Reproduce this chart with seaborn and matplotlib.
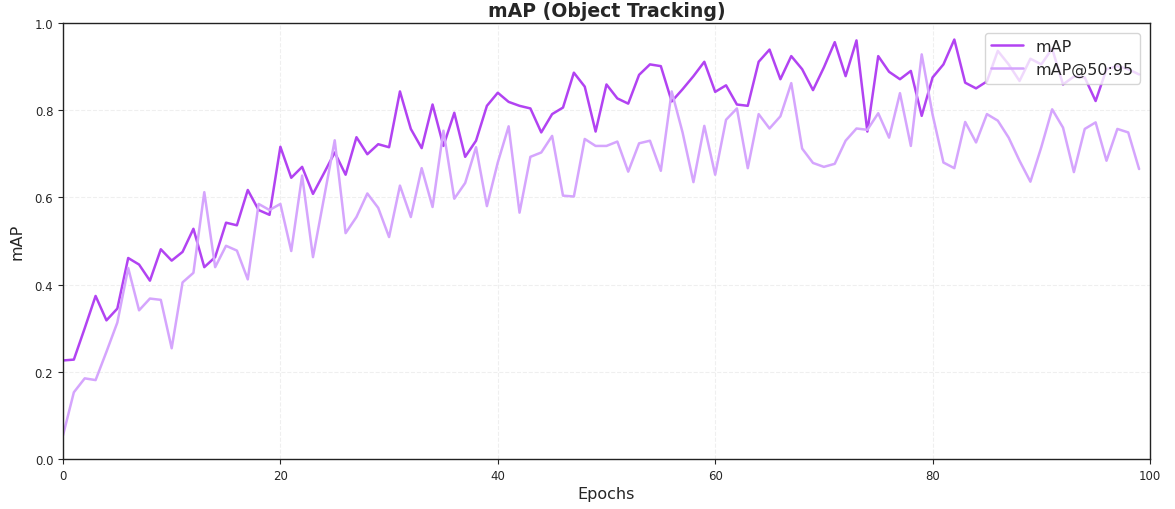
import numpy as np
import pandas as pd
import matplotlib
matplotlib.use("Agg")
import matplotlib.pyplot as plt
import seaborn as sns

# Per-epoch validation scores
epochs = list(range(100))

map_values = [
    0.226, 0.228, 0.300, 0.374, 0.318, 0.345, 0.461, 0.446, 0.409, 0.481,
    0.455, 0.475, 0.528, 0.440, 0.463, 0.542, 0.536, 0.617, 0.571, 0.560,
    0.716, 0.645, 0.670, 0.608, 0.655, 0.703, 0.652, 0.738, 0.699, 0.722,
    0.715, 0.843, 0.757, 0.713, 0.813, 0.718, 0.794, 0.693, 0.730, 0.810,
    0.840, 0.819, 0.810, 0.804, 0.749, 0.791, 0.806, 0.886, 0.854, 0.751,
    0.859, 0.827, 0.815, 0.881, 0.905, 0.901, 0.820, 0.848, 0.878, 0.911,
    0.842, 0.857, 0.813, 0.810, 0.911, 0.939, 0.871, 0.924, 0.894, 0.846,
    0.898, 0.956, 0.878, 0.960, 0.751, 0.924, 0.888, 0.871, 0.890, 0.787,
    0.875, 0.905, 0.962, 0.863, 0.850, 0.866, 0.936, 0.905, 0.867, 0.918,
    0.905, 0.941, 0.859, 0.877, 0.875, 0.821, 0.894, 0.901, 0.894, 0.882,
]

map_50_95_values = [
    0.054, 0.153, 0.185, 0.181, 0.246, 0.313, 0.438, 0.341, 0.368, 0.365,
    0.254, 0.405, 0.427, 0.612, 0.440, 0.489, 0.478, 0.412, 0.585, 0.571,
    0.585, 0.477, 0.650, 0.463, 0.597, 0.731, 0.518, 0.555, 0.609, 0.576,
    0.509, 0.627, 0.555, 0.667, 0.578, 0.753, 0.597, 0.633, 0.715, 0.580,
    0.680, 0.763, 0.565, 0.693, 0.703, 0.741, 0.604, 0.602, 0.734, 0.718,
    0.718, 0.728, 0.659, 0.724, 0.730, 0.661, 0.843, 0.749, 0.635, 0.764,
    0.652, 0.778, 0.804, 0.667, 0.791, 0.758, 0.786, 0.862, 0.712, 0.679,
    0.670, 0.677, 0.730, 0.758, 0.755, 0.793, 0.737, 0.839, 0.718, 0.928,
    0.790, 0.680, 0.667, 0.773, 0.726, 0.791, 0.776, 0.737, 0.684, 0.636,
    0.715, 0.802, 0.760, 0.658, 0.757, 0.772, 0.684, 0.757, 0.749, 0.665,
]

series_names = ["mAP", "mAP@50:95"]
series_colors = {"mAP": "#b243f2", "mAP@50:95": "#d5a5fd"}

df = pd.concat([
    pd.DataFrame({"Epochs": epochs, "value": map_values, "metric": series_names[0]}),
    pd.DataFrame({"Epochs": epochs, "value": map_50_95_values, "metric": series_names[1]}),
], ignore_index=True)

sns.set_style("ticks")
plt.rcParams["font.family"] = ["DejaVu Sans"]

fig, ax = plt.subplots(figsize=(11.75, 5.10), dpi=100)
fig.subplots_adjust(left=0.0536, right=0.9787, top=0.953, bottom=0.098)

sns.lineplot(data=df, x="Epochs", y="value", hue="metric", hue_order=series_names,
             palette=series_colors, linewidth=1.8, ax=ax)

ax.set_xlim(0, 100)
ax.set_ylim(0, 1.0)
ax.set_xticks(np.arange(0, 101, 20))
ax.set_yticks(np.arange(0, 1.01, 0.2))
ax.tick_params(axis="both", labelsize=8.5)
ax.grid(True, linestyle="--", alpha=0.3)

for side in ["top", "right", "left", "bottom"]:
    ax.spines[side].set_visible(True)
    ax.spines[side].set_color("#222222")
    ax.spines[side].set_linewidth(1.0)

ax.set_xlabel("Epochs", fontsize=11.5, labelpad=3)
ax.set_ylabel("mAP", fontsize=11.5, labelpad=7.5)
ax.set_title("mAP (Object Tracking)", fontsize=13.6, fontweight="bold", pad=5)

ax.legend(loc="upper right", fontsize=11.5, title=None, framealpha=0.8,
          borderaxespad=0.6)

fig.savefig("out.png", dpi=100)
